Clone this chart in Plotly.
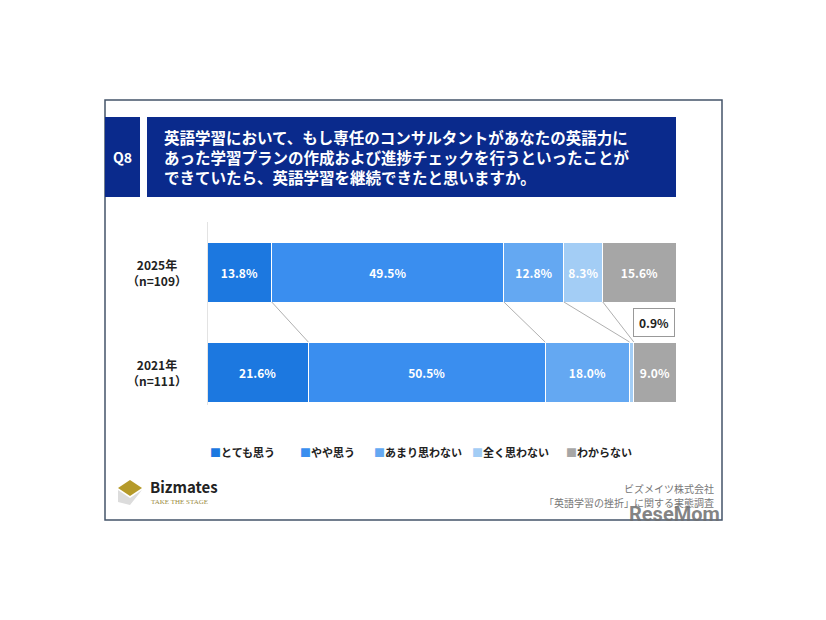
import plotly.graph_objects as go

years = ["2021年<br>（n=111）", "2025年<br>（n=109）"]
categories = ["とても思う", "やや思う", "あまり思わない", "全く思わない", "わからない"]
values_2021 = [21.6, 50.5, 18.0, 0.9, 9.0]
values_2025 = [13.8, 49.5, 12.8, 8.3, 15.6]
colors = ["#1c78e0", "#3a8eef", "#64a8f2", "#a3cdf5", "#a6a6a6"]
legend_x = [208, 298, 372, 470, 564]

W, H = 826, 620
def px(x): return (x - 8) / W
def py(y): return 1 - (y - 8) / H

fig = go.Figure()
for i, cat in enumerate(categories):
    vals = [values_2021[i], values_2025[i]]
    texts = [f"<b>{v:.1f}%</b>" if v >= 2 else "" for v in vals]
    fig.add_trace(go.Bar(
        y=[0, 1], x=vals, orientation="h", name=cat, width=0.6,
        marker=dict(color=colors[i], line=dict(width=1, color="white")),
        text=texts, textposition="inside", insidetextanchor="middle",
        textfont=dict(color="white", size=12), hoverinfo="skip", showlegend=False))

shapes = []
c21, c25 = 0, 0
for a, b in zip(values_2021[:-1], values_2025[:-1]):
    c21 += a; c25 += b
    shapes.append(dict(type="line", xref="x", yref="y", x0=c25, y0=0.7, x1=c21, y1=0.3,
                       line=dict(color="#b0b0b0", width=1)))
shapes.append(dict(type="line", xref="x", yref="y", x0=0, y0=1.5, x1=0, y1=-0.33,
                   line=dict(color="#c8c8c8", width=1)))
shapes.append(dict(type="rect", xref="paper", yref="paper", x0=px(105), y0=py(520), x1=px(722), y1=py(100),
                   line=dict(color="#44546a", width=1.5), layer="below"))
shapes.append(dict(type="rect", xref="paper", yref="paper", x0=px(105), y0=py(197), x1=px(140), y1=py(117),
                   fillcolor="#0a2a8c", line=dict(width=0), layer="below"))
shapes.append(dict(type="rect", xref="paper", yref="paper", x0=px(147), y0=py(197), x1=px(676), y1=py(117),
                   fillcolor="#0a2a8c", line=dict(width=0), layer="below"))
shapes.append(dict(type="path", xref="paper", yref="paper",
                   path=f"M {px(118)},{py(488)} L {px(130)},{py(480)} L {px(142)},{py(488)} L {px(130)},{py(496)} Z",
                   fillcolor="#b59a2a", line=dict(width=0)))
shapes.append(dict(type="path", xref="paper", yref="paper",
                   path=f"M {px(118)},{py(490)} L {px(130)},{py(498)} L {px(142)},{py(490)} L {px(130)},{py(505)} L {px(118)},{py(502)} Z",
                   fillcolor="#dcdcdc", line=dict(width=0)))

def A(text, x, y, xa="center", ya="middle", **kw):
    d = dict(text=text, xref="paper", yref="paper", x=px(x), y=py(y), xanchor=xa, yanchor=ya,
             showarrow=False)
    d.update(kw)
    return d

ann = [
    A("<b>Q8</b>", 122, 157, font=dict(color="white", size=14)),
    A("<b>英語学習において、もし専任のコンサルタントがあなたの英語力に<br>"
      "あった学習プランの作成および進捗チェックを行うといったことが<br>"
      "できていたら、英語学習を継続できたと思いますか。</b>", 162, 157, xa="left",
      align="left", font=dict(color="white", size=15.5)),
    A("<b>0.9%</b>", 654, 322, font=dict(size=12, color="#222"), bordercolor="#999",
      borderwidth=1, borderpad=5, bgcolor="white"),
    A("<b>Bizmates</b>", 148, 486, xa="left", font=dict(size=15, color="#222")),
    A("TAKE THE STAGE", 149, 502, xa="left", font=dict(size=7, color="#9a8a40", family="Liberation Serif")),
    A("ビズメイツ株式会社", 716, 488, xa="right", font=dict(size=10, color="#777")),
    A("「英語学習の挫折」に関する実態調査", 716, 502, xa="right", font=dict(size=10, color="#777")),
    A("<b>ReseMom</b>", 722, 514, xa="right", font=dict(size=20, color="rgba(110,110,110,0.85)", family="Roboto")),
]
for yv, lab in zip([0, 1], years):
    ann.append(dict(text=f"<b>{lab}</b>", xref="paper", yref="y", x=px(157), y=yv, xanchor="center",
                    yanchor="middle", showarrow=False, font=dict(size=12, color="#222"), align="center"))
for cat, col, lx in zip(categories, colors, legend_x):
    ann.append(A(f"<span style='color:{col}'>■</span><b>{cat}</b>", lx, 452, xa="left",
                 font=dict(size=11, color="#222")))

fig.update_layout(
    width=W, height=H, margin=dict(l=0, r=0, t=0, b=0),
    paper_bgcolor="white", plot_bgcolor="rgba(0,0,0,0)", barmode="stack",
    font=dict(family="Noto Sans CJK JP", color="#222"), showlegend=False,
    xaxis=dict(domain=[px(207), px(676)], range=[0, 100], visible=False),
    yaxis=dict(domain=[py(422), py(222)], range=[-0.5, 1.5], visible=False),
    shapes=shapes, annotations=ann,
)
fig.write_html("out.html")
